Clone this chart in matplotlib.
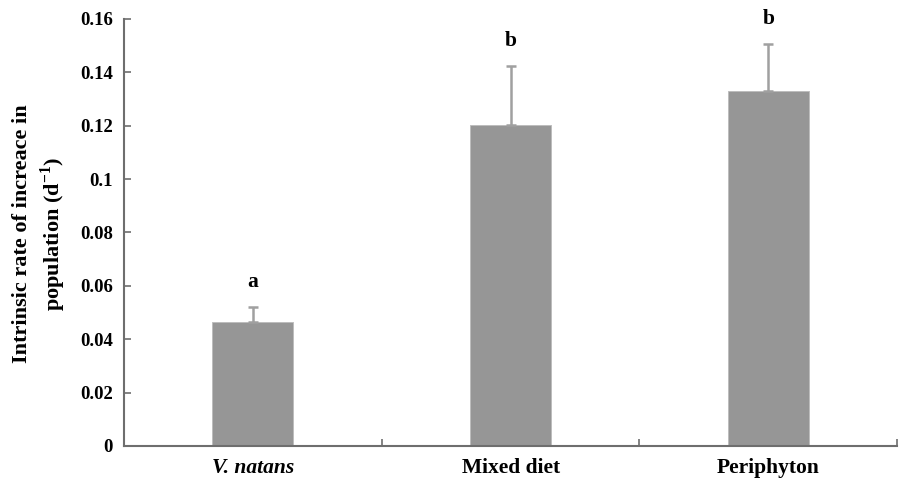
import numpy as np
import matplotlib
matplotlib.use("Agg")
import matplotlib.pyplot as plt

# data
categories = ["V. natans", "Mixed diet", "Periphyton"]
means = [0.0463, 0.1202, 0.1331]
errors = [0.0058, 0.0222, 0.0174]
letters = ["a", "b", "b"]
ytick_vals = [0, 0.02, 0.04, 0.06, 0.08, 0.1, 0.12, 0.14, 0.16]
ytick_labels = ["0", "0.02", "0.04", "0.06", "0.08", "0.1", "0.12", "0.14", "0.16"]

BAR_COLOR = "#969696"
AXIS_COLOR = "#6e6e6e"

plt.rcParams["font.family"] = ["Liberation Serif", "DejaVu Serif"]
plt.rcParams["font.weight"] = "bold"
plt.rcParams["mathtext.fontset"] = "custom"
plt.rcParams["mathtext.rm"] = "Liberation Serif:bold"
plt.rcParams["mathtext.bf"] = "Liberation Serif:bold"

fig = plt.figure(figsize=(9.0, 4.87), dpi=100)
ax = fig.add_axes([0.1378, 0.0842, 0.859, 0.8768])

x = np.arange(len(categories))
ax.bar(x, means, width=0.314, color=BAR_COLOR, edgecolor="#bdbdbd", linewidth=0.7, zorder=2)
ax.errorbar(x, means, yerr=[np.zeros(len(means)), errors], fmt="none",
            ecolor="#a0a0a0", elinewidth=1.8, capsize=3.8, capthick=1.8, zorder=3)

# significance letters above the error bars
for xi, m, e, lab in zip(x, means, errors, letters):
    ax.text(xi, m + e + 0.0095, lab, ha="center", va="center",
            fontsize=15.5, fontweight="bold")

ax.set_xlim(-0.5, 2.5)
ax.set_ylim(0, 0.16)
ax.set_yticks(ytick_vals)
ax.set_yticklabels(ytick_labels)
ax.set_xticks([-0.5, 0.5, 1.5, 2.5])
ax.set_xticklabels([])
ax.set_xticks(x, minor=True)
ax.set_xticklabels(categories, minor=True)
ax.tick_params(axis="x", which="minor", length=0, pad=9, labelsize=15.5)
ax.tick_params(axis="x", which="major", direction="in", length=5, color=AXIS_COLOR, width=1.2)
ax.tick_params(axis="y", direction="in", length=5, color=AXIS_COLOR, width=1.2, labelsize=13.5, pad=8)
for lbl in ax.get_xticklabels(minor=True):
    lbl.set_fontweight("bold")
    if lbl.get_text() == "V. natans":
        lbl.set_fontstyle("italic")
for lbl in ax.get_yticklabels():
    lbl.set_fontweight("bold")

for side in ["top", "right"]:
    ax.spines[side].set_visible(False)
for side in ["left", "bottom"]:
    ax.spines[side].set_color(AXIS_COLOR)
    ax.spines[side].set_linewidth(1.5)

fig.text(40 / 900, 1 - 234 / 487,
         "Intrinsic rate of increace in\npopulation (d$^{-1}$)",
         rotation=90, ha="center", va="center", fontsize=16, fontweight="bold",
         linespacing=1.3)

fig.savefig("out.png", dpi=100)
